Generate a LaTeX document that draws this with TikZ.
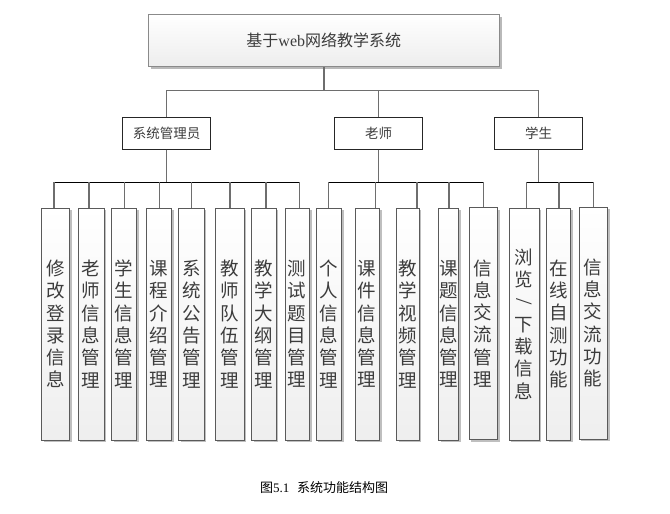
\documentclass[tikz,border=0pt]{standalone}
\usepackage{fontspec}
\setmainfont{Liberation Serif}
\newfontfamily\cjk{Noto Sans CJK SC}
\usetikzlibrary{shadows,calc}
\definecolor{txtgray}{HTML}{3C3C3C}
\definecolor{linegray}{HTML}{6E6E6E}
\definecolor{bordergray}{HTML}{8A8A8A}
\definecolor{leafborder}{HTML}{5A5A5A}
\tikzset{
  topbox/.style={draw=bordergray, line width=1.1pt, shading=axis, top color=white, bottom color=gray!14,
    drop shadow={shadow xshift=2.5pt, shadow yshift=-2.5pt, fill=gray!55, opacity=1},
    minimum width=351pt, minimum height=52pt, inner sep=0pt, text=txtgray,
    font=\cjk\fontsize{16}{18}\selectfont},
  rolebox/.style={draw=black!85, line width=0.9pt, fill=white, minimum width=88pt, minimum height=31.5pt,
    inner sep=0pt, text=txtgray, font=\cjk\fontsize{13.5}{16}\selectfont},
  leafbox/.style={draw=leafborder, line width=0.9pt, shading=axis, top color=white, bottom color=gray!13,
    drop shadow={shadow xshift=2.2pt, shadow yshift=-2.2pt, fill=gray!50, opacity=1},
    minimum height=232pt, inner sep=0pt, align=center, text=txtgray,
    font=\cjk\fontsize{18.5}{22.3}\selectfont},
  conn/.style={draw=linegray, line width=1.5pt},
  bar/.style={draw=black, line width=0.9pt},
  drop/.style={draw=linegray, line width=1.3pt},
  caption/.style={inner sep=0pt, text=black, font=\cjk\fontsize{13}{15}\selectfont}
}
\begin{document}
\begin{tikzpicture}[x=1pt,y=-1pt]
\useasboundingbox[fill=white] (0,0) rectangle (670,514);
% coordinates of the bars
\coordinate (b0) at (0,90.5);
\coordinate (b1) at (0,182.3);
% top
\node[topbox] (top) at (323.8,40.7) {基于{\rmfamily web}网络教学系统};
% roles
\node[rolebox] (admin) at (166.7,133.3) {系统管理员};
\node[rolebox] (teacher) at (378.5,133.3) {老师};
\node[rolebox] (student) at (538.5,133.3) {学生};
% leaves
\node[leafbox, minimum width=27.6pt] (l1) at (55.5,324) {修\\改\\登\\录\\信\\息};
\node[leafbox, minimum width=26pt] (l2) at (91,324) {老\\师\\信\\息\\管\\理};
\node[leafbox, minimum width=25pt] (l3) at (124.2,324) {学\\生\\信\\息\\管\\理};
\node[leafbox, minimum width=25.7pt] (l4) at (158.85,324) {课\\程\\介\\绍\\管\\理};
\node[leafbox, minimum width=25.3pt] (l5) at (191.35,324) {系\\统\\公\\告\\管\\理};
\node[leafbox, minimum width=29pt] (l6) at (229.5,324) {教\\师\\队\\伍\\管\\理};
\node[leafbox, minimum width=24.3pt] (l7) at (263.85,324) {教\\学\\大\\纲\\管\\理};
\node[leafbox, minimum width=24.3pt] (l8) at (297.15,324) {测\\试\\题\\目\\管\\理};
\node[leafbox, minimum width=25.7pt] (l9) at (328.85,324) {个\\人\\信\\息\\管\\理};
\node[leafbox, minimum width=24.3pt] (l10) at (367.15,324) {课\\件\\信\\息\\管\\理};
\node[leafbox, minimum width=22.3pt] (l11) at (407.85,324) {教\\学\\视\\频\\管\\理};
\node[leafbox, minimum width=20pt] (l12) at (448.3,324) {课\\题\\信\\息\\管\\理};
\node[leafbox, minimum width=28.3pt] (l13) at (483.15,323.5) {信\\息\\交\\流\\管\\理};
\node[leafbox, minimum width=30pt] (l14) at (524,324) {浏\\览\\{\rmfamily\rotatebox[origin=c]{-90}{\scalebox{1.25}{/}}}\\下\\载\\信\\息};
\node[leafbox, minimum width=24pt] (l15) at (558.7,324) {在\\线\\自\\测\\功\\能};
\node[leafbox, minimum width=28.3pt] (l16) at (593.15,323) {信\\息\\交\\流\\功\\能};
% upper connectors
\draw[conn] (top.south) -- (top.south |- b0);
\draw[conn] (admin.north) -- (admin.north |- b0) -- (student.north |- b0) -- (student.north);
\draw[conn] (teacher.north) -- (teacher.north |- b0);
% role to bar
\draw[conn] (admin.south) -- (admin.south |- b1);
\draw[conn] (teacher.south) -- (teacher.south |- b1);
\draw[conn] (student.south) -- (student.south |- b1);
% bars
\draw[bar] ([xshift=-1.5pt]l1.north |- b1) -- ([xshift=2pt]l8.north |- b1);
\draw[bar] ([xshift=-0.5pt]l9.north |- b1) -- (l13.north |- b1);
\draw[bar] ([xshift=2.7pt]l14.north |- b1) -- (l16.north |- b1);
% drops
\foreach \n/\dx in {l1/-1.5,l2/-2,l3/0.5,l4/0.5,l5/0.4,l6/0.5,l7/2,l8/2,l9/-0.5,l10/8,l11/9,l12/0.7,l13/0,l14/2.7,l15/0.3,l16/0}{
  \draw[drop] ([xshift=\dx pt]\n.north) -- ([xshift=\dx pt]\n.north |- b1);
}
% caption
\node[caption] (cap) at (324.2,488) {图{\rmfamily 5.1}\hspace{0.6em}系统功能结构图};
\end{tikzpicture}
\end{document}
